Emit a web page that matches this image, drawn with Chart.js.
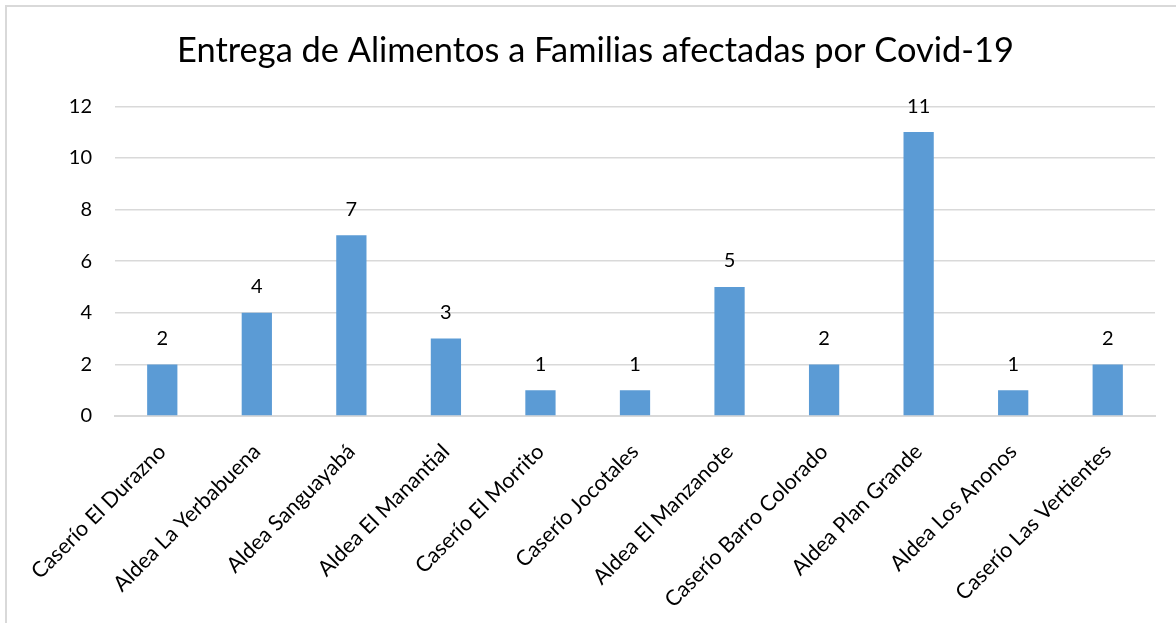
<!DOCTYPE html>
<html><head><meta charset="utf-8">
<script src="https://cdn.jsdelivr.net/npm/chart.js@4"></script>
<style>
html,body{margin:0;padding:0;background:#fff;overflow:hidden;}
#wrap{position:relative;width:1176px;height:623px;}
#frame{position:absolute;left:5px;top:5px;width:1300px;height:800px;border:2px solid #d9d9d9;pointer-events:none;}
canvas{position:absolute;left:0;top:0;}
</style></head>
<body>
<div id="wrap"><canvas id="c" width="1176" height="623"></canvas><div id="frame"></div></div>
<script>
const categories = ["Caserío El Durazno","Aldea La Yerbabuena","Aldea Sanguayabá","Aldea El Manantial","Caserío El Morrito","Caserío Jocotales","Aldea El Manzanote","Caserío Barro Colorado","Aldea Plan Grande","Aldea Los Anonos","Caserío Las Vertientes"];
const values = [2,4,7,3,1,1,5,2,11,1,2];
const yTicks = [0,2,4,6,8,10,12];
const FONT = "Lato, 'Open Sans', sans-serif";

const valueLabels = {
  id:'valueLabels',
  afterDatasetsDraw(chart){
    const ctx = chart.ctx;
    const meta = chart.getDatasetMeta(0);
    ctx.save();
    ctx.font = "20px " + FONT;
    ctx.fillStyle = "#000";
    ctx.textAlign = "center";
    ctx.textBaseline = "middle";
    meta.data.forEach((bar,i)=>{
      ctx.fillText(String(values[i]), bar.x, bar.y - 26);
    });
    ctx.restore();
  }
};

Chart.defaults.font.family = FONT;
new Chart(document.getElementById('c'), {
  type:'bar',
  data:{labels:categories, datasets:[{data:values, backgroundColor:'#5B9BD5', borderWidth:0, categoryPercentage:1, barPercentage:0.32}]},
  options:{
    responsive:false, animation:false,
    layout:{padding:{left:36,right:21,top:0,bottom:0}},
    plugins:{
      legend:{display:false}, tooltip:{enabled:false},
      title:{display:true, text:'Entrega de Alimentos a Familias afectadas por Covid-19', color:'#000', font:{size:34.4, weight:'normal', family:FONT}, padding:{top:30,bottom:35}}
    },
    scales:{
      x:{
        grid:{display:false, drawTicks:false},
        border:{display:true, color:'#d9d9d9', width:2},
        ticks:{color:'#000', font:{size:21.5}, maxRotation:45, minRotation:45, padding:23, autoSkip:false},
        afterFit(s){ s.height = 207; }
      },
      y:{
        min:0, max:12,
        afterBuildTicks(s){ s.ticks = yTicks.map(v=>({value:v})); },
        grid:{color:'#d9d9d9', lineWidth:1.5, drawTicks:false},
        border:{display:false},
        ticks:{color:'#000', font:{size:20}, padding:23},
        afterFit(s){ s.width = 79; }
      }
    }
  },
  plugins:[valueLabels]
});
</script>
</body></html>
